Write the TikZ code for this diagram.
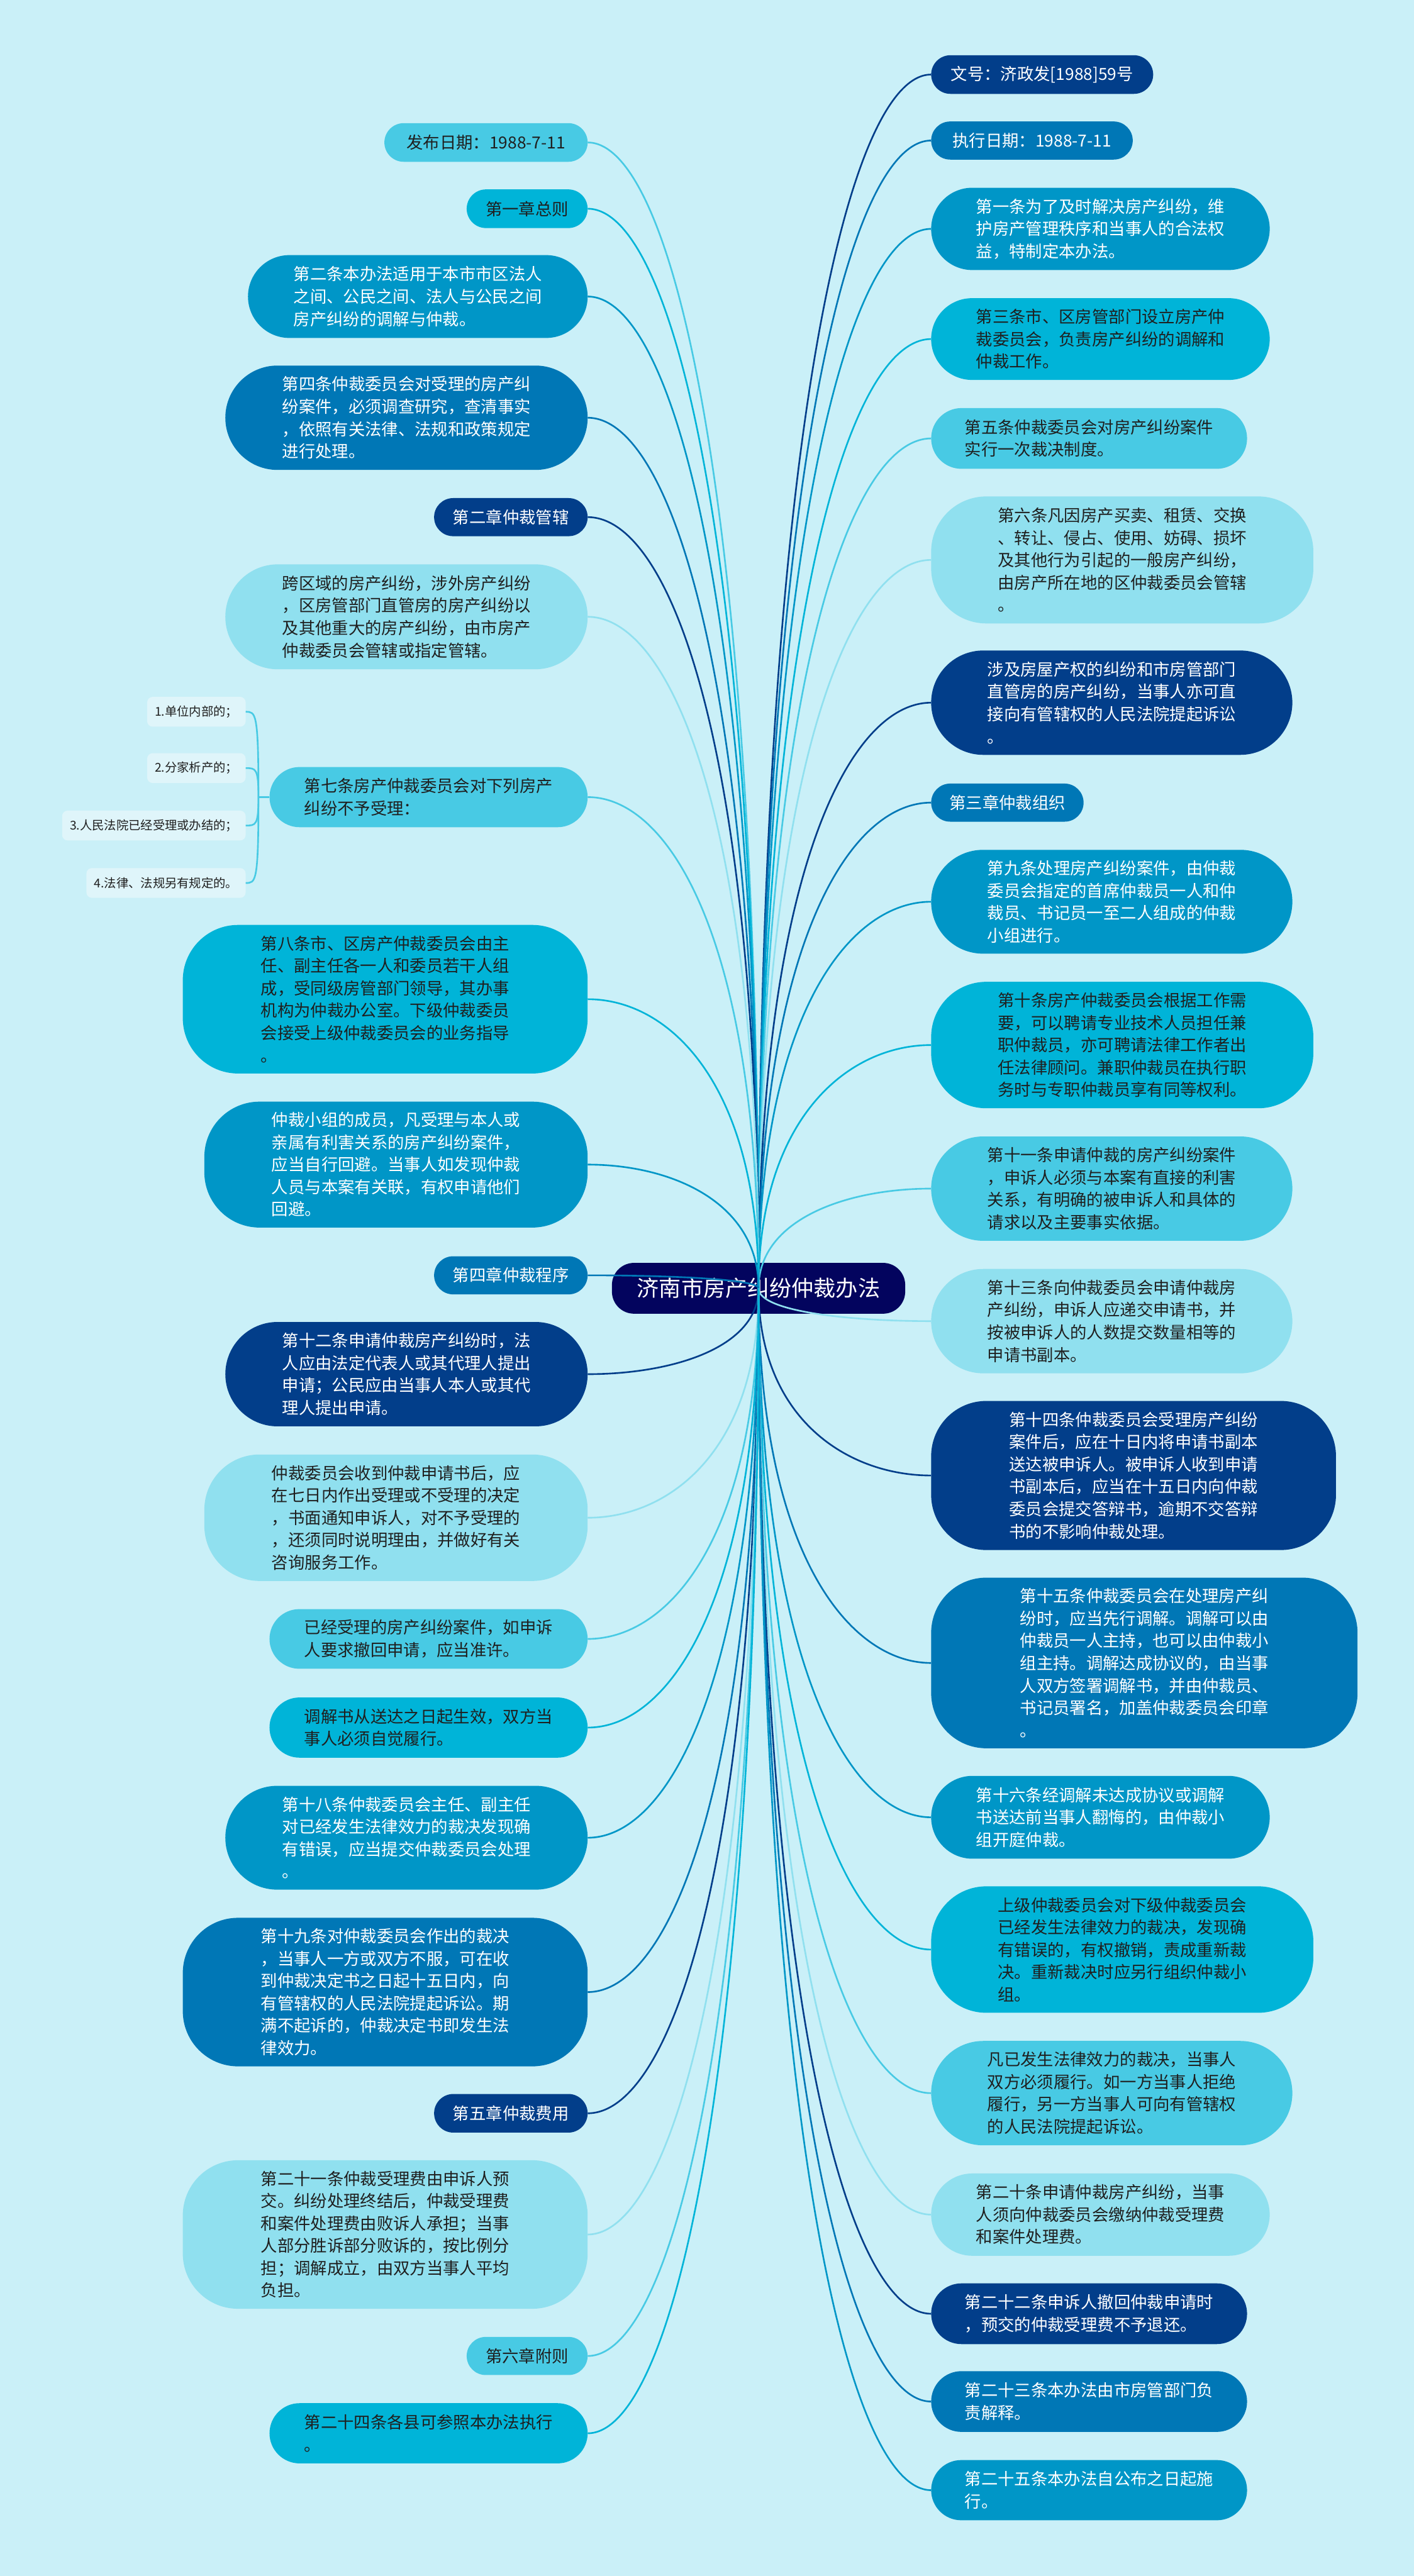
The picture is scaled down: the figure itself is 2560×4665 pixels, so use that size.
\documentclass[tikz,border=0pt]{standalone}
\usepackage{fontspec}
\newfontfamily\cjk{Noto Sans CJK SC}
\usetikzlibrary{calc}
\definecolor{colA}{HTML}{03045E}
\definecolor{colB}{HTML}{023E8A}
\definecolor{colC}{HTML}{0077B6}
\definecolor{colD}{HTML}{0096C7}
\definecolor{colE}{HTML}{00B4D8}
\definecolor{colF}{HTML}{48CAE4}
\definecolor{colG}{HTML}{90E0EF}
\definecolor{colS}{HTML}{DFF5FA}
\definecolor{bgc}{HTML}{CAF0F8}
\definecolor{txtD}{HTML}{1F1F1F}
\tikzset{
  mm/.style={rectangle, inner sep=0pt, align=left, font=\cjk\fontsize{30}{40.5}\selectfont},
  rootbox/.style={rectangle, inner sep=0pt, fill=colA, text=white, rounded corners=40pt, font=\cjk\fontsize{40}{48}\selectfont},
  subbox/.style={rectangle, inner xsep=14pt, inner ysep=0pt, minimum height=54pt, rounded corners=10pt, fill=colS, text=txtD, anchor=east, font=\cjk\fontsize{22}{26}\selectfont},
  conn/.style={line width=3pt},
}
\newcommand\mmnode[8]{%
  \pgfmathsetmacro\mmw{#3-#2}%
  \pgfmathsetmacro\mmh{#5-#4}%
  \pgfmathsetmacro\mmr{min(\mmh/2,100)}%
  \node[mm, fill=#6, text=#7, minimum width=\mmw pt, minimum height=\mmh pt, rounded corners=\mmr pt] (#1) at ({(#2+#3)/2},{(#4+#5)/2}) {#8};%
}
\newcommand\mmedge[4]{%
  \path ($(#1.#2)!0.3!(root.center)$) coordinate (mmt);%
  \draw[conn, draw=#4] (root.center) .. controls (root.center |- mmt) and ([xshift=#3pt]#1.#2) .. (#1.#2);%
}
\begin{document}
\begin{tikzpicture}[x=1pt,y=-1pt]
\fill[bgc] (0,0) rectangle (2560,4665);
\useasboundingbox (0,0) rectangle (2560,4665);

\node[rootbox, minimum width=531pt, minimum height=92pt] (root) at (1373.5,2333) {济南市房产纠纷仲裁办法};

% right side
\mmnode{R1}{1686}{2088}{100}{170}{colB}{white}{文号：济政发[1988]59号}
\mmnode{R2}{1686}{2051}{220}{289}{colC}{white}{执行日期：1988-7-11}
\mmnode{R3}{1686}{2299}{340}{489}{colD}{white}{第一条为了及时解决房产纠纷，维\\护房产管理秩序和当事人的合法权\\益，特制定本办法。}
\mmnode{R4}{1686}{2299}{540}{688}{colE}{txtD}{第三条市、区房管部门设立房产仲\\裁委员会，负责房产纠纷的调解和\\仲裁工作。}
\mmnode{R5}{1686}{2258}{739}{849}{colF}{txtD}{第五条仲裁委员会对房产纠纷案件\\实行一次裁决制度。}
\mmnode{R6}{1686}{2378}{899}{1129}{colG}{txtD}{第六条凡因房产买卖、租赁、交换\\、转让、侵占、使用、妨碍、损坏\\及其他行为引起的一般房产纠纷，\\由房产所在地的区仲裁委员会管辖\\。}
\mmnode{R7}{1686}{2340}{1178}{1367}{colB}{white}{涉及房屋产权的纠纷和市房管部门\\直管房的房产纠纷，当事人亦可直\\接向有管辖权的人民法院提起诉讼\\。}
\mmnode{R8}{1686}{1962}{1419}{1488}{colC}{white}{第三章仲裁组织}
\mmnode{R9}{1686}{2340}{1539}{1727}{colD}{white}{第九条处理房产纠纷案件，由仲裁\\委员会指定的首席仲裁员一人和仲\\裁员、书记员一至二人组成的仲裁\\小组进行。}
\mmnode{R10}{1686}{2378}{1778}{2007}{colE}{txtD}{第十条房产仲裁委员会根据工作需\\要，可以聘请专业技术人员担任兼\\职仲裁员，亦可聘请法律工作者出\\任法律顾问。兼职仲裁员在执行职\\务时与专职仲裁员享有同等权利。}
\mmnode{R11}{1686}{2340}{2058}{2247}{colF}{txtD}{第十一条申请仲裁的房产纠纷案件\\，申诉人必须与本案有直接的利害\\关系，有明确的被申诉人和具体的\\请求以及主要事实依据。}
\mmnode{R12}{1686}{2340}{2298}{2487}{colG}{txtD}{第十三条向仲裁委员会申请仲裁房\\产纠纷，申诉人应递交申请书，并\\按被申诉人的人数提交数量相等的\\申请书副本。}
\mmnode{R13}{1686}{2419}{2537}{2807}{colB}{white}{第十四条仲裁委员会受理房产纠纷\\案件后，应在十日内将申请书副本\\送达被申诉人。被申诉人收到申请\\书副本后，应当在十五日内向仲裁\\委员会提交答辩书，逾期不交答辩\\书的不影响仲裁处理。}
\mmnode{R14}{1686}{2458}{2857}{3166}{colC}{white}{第十五条仲裁委员会在处理房产纠\\纷时，应当先行调解。调解可以由\\仲裁员一人主持，也可以由仲裁小\\组主持。调解达成协议的，由当事\\人双方签署调解书，并由仲裁员、\\书记员署名，加盖仲裁委员会印章\\。}
\mmnode{R15}{1686}{2299}{3216}{3366}{colD}{white}{第十六条经调解未达成协议或调解\\书送达前当事人翻悔的，由仲裁小\\组开庭仲裁。}
\mmnode{R16}{1686}{2378}{3416}{3645}{colE}{txtD}{上级仲裁委员会对下级仲裁委员会\\已经发生法律效力的裁决，发现确\\有错误的，有权撤销，责成重新裁\\决。重新裁决时应另行组织仲裁小\\组。}
\mmnode{R17}{1686}{2340}{3696}{3885}{colF}{txtD}{凡已发生法律效力的裁决，当事人\\双方必须履行。如一方当事人拒绝\\履行，另一方当事人可向有管辖权\\的人民法院提起诉讼。}
\mmnode{R18}{1686}{2299}{3936}{4085}{colG}{txtD}{第二十条申请仲裁房产纠纷，当事\\人须向仲裁委员会缴纳仲裁受理费\\和案件处理费。}
\mmnode{R19}{1686}{2258}{4135}{4245}{colB}{white}{第二十二条申诉人撤回仲裁申请时\\，预交的仲裁受理费不予退还。}
\mmnode{R20}{1686}{2258}{4294}{4404}{colC}{white}{第二十三条本办法由市房管部门负\\责解释。}
\mmnode{R21}{1686}{2258}{4455}{4564}{colD}{white}{第二十五条本办法自公布之日起施\\行。}

% left side
\mmnode{L1}{696}{1064}{223}{293}{colF}{txtD}{发布日期：1988-7-11}
\mmnode{L2}{845}{1064}{343}{413}{colE}{txtD}{第一章总则}
\mmnode{L3}{449}{1064}{462}{612}{colD}{white}{第二条本办法适用于本市市区法人\\之间、公民之间、法人与公民之间\\房产纠纷的调解与仲裁。}
\mmnode{L4}{408}{1064}{662}{851}{colC}{white}{第四条仲裁委员会对受理的房产纠\\纷案件，必须调查研究，查清事实\\，依照有关法律、法规和政策规定\\进行处理。}
\mmnode{L5}{786}{1064}{902}{971}{colB}{white}{第二章仲裁管辖}
\mmnode{L6}{408}{1064}{1022}{1212}{colG}{txtD}{跨区域的房产纠纷，涉外房产纠纷\\，区房管部门直管房的房产纠纷以\\及其他重大的房产纠纷，由市房产\\仲裁委员会管辖或指定管辖。}
\mmnode{L7}{488}{1064}{1389}{1498}{colF}{txtD}{第七条房产仲裁委员会对下列房产\\纠纷不予受理：}
\mmnode{L8}{331}{1064}{1675}{1944}{colE}{txtD}{第八条市、区房产仲裁委员会由主\\任、副主任各一人和委员若干人组\\成，受同级房管部门领导，其办事\\机构为仲裁办公室。下级仲裁委员\\会接受上级仲裁委员会的业务指导\\。}
\mmnode{L9}{370}{1064}{1995}{2223}{colD}{white}{仲裁小组的成员，凡受理与本人或\\亲属有利害关系的房产纠纷案件，\\应当自行回避。当事人如发现仲裁\\人员与本案有关联，有权申请他们\\回避。}
\mmnode{L10}{786}{1064}{2275}{2344}{colC}{white}{第四章仲裁程序}
\mmnode{L11}{408}{1064}{2394}{2583}{colB}{white}{第十二条申请仲裁房产纠纷时，法\\人应由法定代表人或其代理人提出\\申请；公民应由当事人本人或其代\\理人提出申请。}
\mmnode{L12}{370}{1064}{2634}{2863}{colG}{txtD}{仲裁委员会收到仲裁申请书后，应\\在七日内作出受理或不受理的决定\\，书面通知申诉人，对不予受理的\\，还须同时说明理由，并做好有关\\咨询服务工作。}
\mmnode{L13}{488}{1064}{2914}{3022}{colF}{txtD}{已经受理的房产纠纷案件，如申诉\\人要求撤回申请，应当准许。}
\mmnode{L14}{488}{1064}{3074}{3183}{colE}{txtD}{调解书从送达之日起生效，双方当\\事人必须自觉履行。}
\mmnode{L15}{408}{1064}{3234}{3422}{colD}{white}{第十八条仲裁委员会主任、副主任\\对已经发生法律效力的裁决发现确\\有错误，应当提交仲裁委员会处理\\。}
\mmnode{L16}{331}{1064}{3473}{3742}{colC}{white}{第十九条对仲裁委员会作出的裁决\\，当事人一方或双方不服，可在收\\到仲裁决定书之日起十五日内，向\\有管辖权的人民法院提起诉讼。期\\满不起诉的，仲裁决定书即发生法\\律效力。}
\mmnode{L17}{786}{1064}{3792}{3862}{colB}{white}{第五章仲裁费用}
\mmnode{L18}{331}{1064}{3912}{4181}{colG}{txtD}{第二十一条仲裁受理费由申诉人预\\交。纠纷处理终结后，仲裁受理费\\和案件处理费由败诉人承担；当事\\人部分胜诉部分败诉的，按比例分\\担；调解成立，由双方当事人平均\\负担。}
\mmnode{L19}{845}{1064}{4232}{4301}{colF}{txtD}{第六章附则}
\mmnode{L20}{488}{1064}{4352}{4461}{colE}{txtD}{第二十四条各县可参照本办法执行\\。}

% children of L7
\node[subbox] (c1) at (445,1289) {1.单位内部的；};
\node[subbox] (c2) at (445,1391) {2.分家析产的；};
\node[subbox] (c3) at (445,1495) {3.人民法院已经受理或办结的；};
\node[subbox] (c4) at (445,1599) {4.法律、法规另有规定的。};
\coordinate (j7) at (468,1443.5);
\draw[conn, draw=colF] (L7.west) -- (j7);
\foreach \c in {c1,c2,c3,c4}
  \draw[conn, draw=colF] (j7) .. controls (j7 |- \c.east) and ([xshift=18pt]\c.east) .. (\c.east);

% edges right
\mmedge{R1}{west}{-150}{colB}
\mmedge{R2}{west}{-150}{colC}
\mmedge{R3}{west}{-150}{colD}
\mmedge{R4}{west}{-150}{colE}
\mmedge{R5}{west}{-150}{colF}
\mmedge{R6}{west}{-150}{colG}
\mmedge{R7}{west}{-150}{colB}
\mmedge{R8}{west}{-150}{colC}
\mmedge{R9}{west}{-150}{colD}
\mmedge{R10}{west}{-150}{colE}
\mmedge{R11}{west}{-150}{colF}
\mmedge{R12}{west}{-150}{colG}
\mmedge{R13}{west}{-150}{colB}
\mmedge{R14}{west}{-150}{colC}
\mmedge{R15}{west}{-150}{colD}
\mmedge{R16}{west}{-150}{colE}
\mmedge{R17}{west}{-150}{colF}
\mmedge{R18}{west}{-150}{colG}
\mmedge{R19}{west}{-150}{colB}
\mmedge{R20}{west}{-150}{colC}
\mmedge{R21}{west}{-150}{colD}
% edges left
\mmedge{L1}{east}{150}{colF}
\mmedge{L2}{east}{150}{colE}
\mmedge{L3}{east}{150}{colD}
\mmedge{L4}{east}{150}{colC}
\mmedge{L5}{east}{150}{colB}
\mmedge{L6}{east}{150}{colG}
\mmedge{L7}{east}{150}{colF}
\mmedge{L8}{east}{150}{colE}
\mmedge{L9}{east}{150}{colD}
\mmedge{L10}{east}{150}{colC}
\mmedge{L11}{east}{150}{colB}
\mmedge{L12}{east}{150}{colG}
\mmedge{L13}{east}{150}{colF}
\mmedge{L14}{east}{150}{colE}
\mmedge{L15}{east}{150}{colD}
\mmedge{L16}{east}{150}{colC}
\mmedge{L17}{east}{150}{colB}
\mmedge{L18}{east}{150}{colG}
\mmedge{L19}{east}{150}{colF}
\mmedge{L20}{east}{150}{colE}
\end{tikzpicture}
\end{document}
